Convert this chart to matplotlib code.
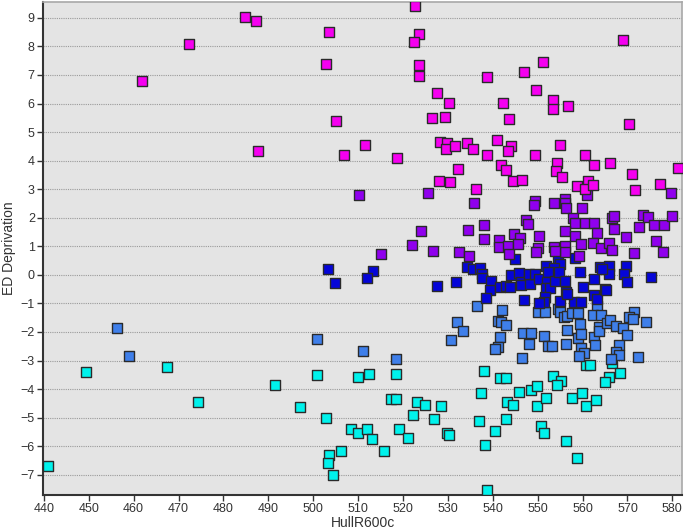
import matplotlib
matplotlib.use("Agg")
import matplotlib.pyplot as plt

plt.rcParams["font.family"] = ["Liberation Sans", "DejaVu Sans"]

# HullR600c (x) vs ED Deprivation (y), grouped by deprivation band
magenta_x = [461.9, 472.4, 484.9, 487.3, 503.5, 522.7, 523.5, 522.5, 502.9, 523.5,
             523.5, 527.5, 530.2, 505.0, 526.5, 529.3, 487.8, 511.6, 506.9, 518.7,
             528.3, 529.9, 529.6, 531.6, 532.2, 528.1, 530.5, 568.9, 551.1, 547.0,
             538.6, 549.6, 553.4, 553.4, 556.7, 542.3, 543.7, 570.4, 534.3, 535.5,
             540.9, 544.0, 543.3, 538.6, 549.4, 554.9, 560.5, 541.8, 542.9, 544.6,
             546.4, 554.2, 554.0, 555.4, 562.6, 566.2, 536.2, 558.8, 561.1, 560.6,
             562.3, 571.1, 571.6, 577.3, 581.3]
magenta_y = [6.78, 8.07, 9.03, 8.88, 8.49, 9.41, 8.42, 8.14, 7.37, 7.35,
             6.97, 6.38, 6.02, 5.39, 5.50, 5.54, 4.32, 4.54, 4.20, 4.10,
             4.64, 4.62, 4.42, 4.52, 3.69, 3.29, 3.25, 8.22, 7.45, 7.12,
             6.93, 6.46, 6.11, 5.80, 5.93, 6.02, 5.47, 5.27, 4.62, 4.42,
             4.73, 4.50, 4.32, 4.20, 4.20, 4.54, 4.20, 3.84, 3.66, 3.29,
             3.31, 3.93, 3.62, 3.44, 3.84, 3.93, 3.02, 3.10, 3.29, 3.00,
             3.16, 3.54, 2.96, 3.17, 3.73]

purple_x = [510.2, 525.5, 524.1, 522.0, 515.0, 526.7, 532.5, 534.8, 561.0, 579.8,
            535.9, 549.5, 549.2, 553.6, 556.1, 556.1, 556.2, 559.8, 557.8, 558.2,
            560.5, 562.6, 547.5, 547.8, 534.5, 538.0, 538.0, 541.4, 541.4, 543.3,
            543.7, 544.7, 546.1, 545.6, 550.4, 550.1, 549.7, 553.7, 556.0, 556.0,
            556.0, 558.4, 559.6, 563.1, 562.3, 564.0, 565.8, 566.5, 566.9, 566.5,
            567.1, 569.6, 571.4, 572.5, 573.4, 574.5, 575.8, 578.2, 580.0, 576.3,
            577.9, 559.1, 553.9]
purple_y = [2.81, 2.88, 1.52, 1.03, 0.74, 0.82, 0.81, 0.67, 2.80, 2.85,
            2.52, 2.59, 2.44, 2.52, 2.65, 2.51, 2.33, 2.33, 2.00, 1.81,
            1.81, 1.81, 1.93, 1.77, 1.57, 1.73, 1.25, 1.21, 0.98, 1.00,
            0.72, 1.42, 1.30, 1.09, 1.37, 0.93, 0.81, 0.97, 1.02, 0.79,
            1.54, 1.37, 1.07, 1.45, 1.10, 0.93, 1.10, 0.87, 1.60, 2.00,
            2.07, 1.33, 0.75, 1.66, 2.11, 2.03, 1.74, 1.74, 2.05, 1.20,
            0.79, 0.67, 0.85]

blue_x = [503.2, 513.3, 504.8, 512.0, 527.5, 531.9, 534.2, 535.6, 537.2, 537.7,
          537.7, 539.7, 539.4, 538.5, 541.6, 542.9, 543.9, 544.1, 545.8, 546.3,
          546.2, 548.2, 548.1, 549.5, 547.0, 544.9, 554.5, 558.4, 555.0, 563.8,
          565.9, 569.7, 551.9, 553.6, 550.4, 552.4, 552.1, 551.9, 552.8, 553.8,
          554.7, 556.0, 556.3, 555.0, 551.7, 551.3, 550.2, 559.4, 560.1, 558.0,
          559.6, 562.6, 562.5, 563.2, 565.8, 564.9, 565.3, 569.3, 569.9, 575.3,
          556.5, 564.4]
blue_y = [0.19, 0.15, -0.29, -0.10, -0.39, -0.26, 0.28, 0.19, 0.25, 0.03,
          -0.12, -0.20, -0.52, -0.81, -0.43, -0.39, -0.43, 0.01, 0.06, -0.25,
          -0.37, -0.31, 0.02, 0.03, -0.87, 0.56, 0.60, 0.60, 0.38, 0.27,
          0.32, 0.32, 0.32, 0.23, -0.14, 0.09, -0.26, -0.46, -0.46, -0.23,
          0.09, -0.22, -0.60, -0.90, -0.78, -0.95, -0.99, 0.09, -0.43, -0.95,
          -0.95, -0.16, -0.72, -0.84, 0.03, -0.49, -0.52, 0.03, -0.25, -0.06,
          -0.66, 0.21]

lightblue_x = [456.3, 459.0, 500.9, 511.0, 518.5, 530.7, 532.0, 533.4, 536.4, 542.0,
               541.2, 541.9, 542.9, 541.6, 541.2, 540.4, 546.6, 546.7, 548.4, 548.0,
               550.1, 551.7, 551.3, 552.2, 553.2, 554.5, 555.0, 555.8, 556.6, 556.5,
               556.2, 557.6, 559.0, 559.4, 558.9, 559.6, 559.6, 560.3, 559.1, 562.6,
               562.7, 563.2, 562.3, 564.0, 563.7, 563.7, 565.5, 566.1, 567.4, 569.0,
               570.0, 568.1, 567.5, 568.0, 571.5, 570.4, 571.3, 574.2, 572.4, 566.4]
lightblue_y = [-1.87, -2.83, -2.24, -2.68, -2.94, -2.28, -1.66, -1.97, -1.09, -1.24,
               -1.61, -1.65, -1.77, -2.16, -2.52, -2.60, -2.90, -2.02, -2.02, -2.43,
               -1.30, -1.30, -2.14, -2.48, -2.48, -1.21, -1.30, -1.49, -1.44, -1.93,
               -2.43, -1.33, -1.33, -1.71, -2.20, -2.08, -2.55, -2.72, -2.83, -2.17,
               -2.46, -1.09, -1.39, -1.39, -1.82, -1.97, -1.67, -1.57, -1.80, -1.86,
               -2.09, -2.44, -2.69, -2.81, -1.30, -1.47, -1.53, -1.65, -2.87, -2.96]

cyan_x = [441.0, 449.5, 467.5, 474.3, 491.6, 497.1, 500.9, 509.9, 512.4, 518.5,
          502.9, 517.3, 518.4, 523.2, 524.9, 528.4, 522.2, 527.0, 508.4, 510.0,
          511.9, 513.1, 519.0, 521.1, 529.9, 530.3, 506.2, 515.7, 503.6, 503.4,
          504.4, 538.0, 541.6, 542.9, 537.4, 545.8, 548.6, 549.9, 553.4, 555.3,
          554.4, 543.1, 544.6, 549.9, 551.8, 557.7, 559.8, 560.7, 562.9, 537.0,
          542.9, 540.4, 550.8, 551.5, 538.3, 556.2, 558.8, 538.8, 560.8, 561.6,
          565.8, 565.1, 566.6, 568.3]
cyan_y = [-6.70, -3.39, -3.24, -4.46, -3.86, -4.63, -3.50, -3.57, -3.46, -3.46,
          -5.00, -4.34, -4.34, -4.46, -4.55, -4.60, -4.89, -5.03, -5.41, -5.52,
          -5.41, -5.75, -5.38, -5.71, -5.52, -5.60, -6.18, -6.18, -6.30, -6.59,
          -7.00, -3.38, -3.60, -3.60, -4.12, -4.09, -4.04, -3.89, -3.53, -3.70,
          -3.86, -4.45, -4.55, -4.58, -4.30, -4.30, -4.15, -4.58, -4.38, -5.11,
          -5.04, -5.48, -5.30, -5.55, -5.96, -5.81, -6.41, -7.52, -3.16, -3.16,
          -3.57, -3.74, -3.08, -3.45]

groups = [
    (cyan_x, cyan_y, "#00f2ec"),
    (lightblue_x, lightblue_y, "#3f7fea"),
    (blue_x, blue_y, "#0505d8"),
    (purple_x, purple_y, "#9000ee"),
    (magenta_x, magenta_y, "#f500f0"),
]

fig = plt.figure(figsize=(6.85, 5.32), dpi=100)
ax = fig.add_axes([0.063, 0.07, 0.933, 0.926])
ax.set_facecolor("#e4e4e4")

for xs, ys, col in groups:
    ax.scatter(xs, ys, s=55, marker="s", c=col, edgecolors="#2a2a2a",
               linewidths=1.0, zorder=3)

ax.set_xlim(439.85, 582.2)
ax.set_ylim(-7.7, 9.55)
ax.set_xticks(range(440, 581, 10))
ax.set_yticks(range(-7, 10))
ax.yaxis.grid(True, linestyle=(0, (1, 1)), color="#9a9a9a", linewidth=0.8, zorder=1)
ax.set_axisbelow(True)

for side in ["left", "bottom"]:
    ax.spines[side].set_color("#333333")
    ax.spines[side].set_linewidth(1.5)
for side in ["top", "right"]:
    ax.spines[side].set_color("#a8a8a8")
    ax.spines[side].set_linewidth(1.2)

ax.tick_params(axis="both", labelsize=9, colors="#333333", length=4, width=1, pad=2)
ax.set_xlabel("HullR600c", fontsize=10, color="#333333")
ax.set_ylabel("ED Deprivation", fontsize=10, color="#333333")
ax.xaxis.set_label_coords(0.5, -0.043)
ax.yaxis.set_label_coords(-0.043, 0.5)

fig.savefig("out.png", dpi=100)
